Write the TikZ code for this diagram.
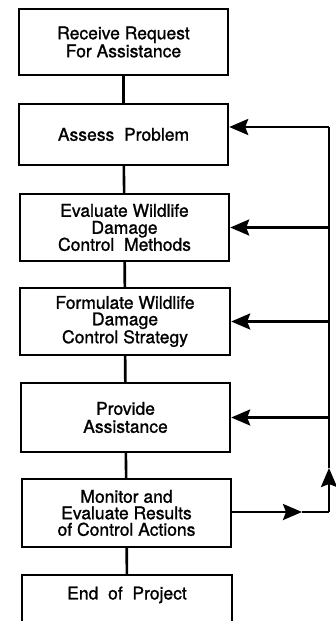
\documentclass[tikz,border=0pt]{standalone}
\usepackage{fontspec}
\setmainfont{TeX Gyre Heros}[FakeBold=1.2, AutoFakeBold=1.2]
\usetikzlibrary{arrows.meta}

\tikzset{
  stepbox/.style={draw, rectangle, line width=2.4pt, minimum width=209pt,
    align=center, inner sep=0pt, font=\fontsize{17.5}{18}\selectfont\bfseries},
  link/.style={line width=2.6pt},
  fbarrow/.style={line width=2.6pt, -{Stealth[length=19pt,width=16pt,inset=3pt]}}
}

\begin{document}
\begin{tikzpicture}[x=1pt, y=-1pt]
\useasboundingbox (0,0) rectangle (336,621);

% Process steps
\node[stepbox, minimum height=66pt] (receive) at (123.5,42) {Receive Request\\For Assistance};
\node[stepbox, minimum height=61pt] (assess) at (123.5,134.5) {Assess\ \ Problem};
\node[stepbox, minimum height=67pt, font=\fontsize{17.5}{17}\selectfont\bfseries] (evaluate) at (124.5,227.5) {Evaluate Wildlife\\Damage\\Control\ \ Methods};
\node[stepbox, minimum height=67pt, minimum width=210pt, font=\fontsize{17.5}{16.5}\selectfont\bfseries] (formulate) at (125,321.5) {Formulate Wildlife\\Damage\\Control Strategy};
\node[stepbox, minimum height=69pt] (provide) at (125.5,417.5) {Provide\\Assistance};
\node[stepbox, minimum height=68pt, font=\fontsize{17.5}{16.5}\selectfont\bfseries] (monitor) at (126.5,513) {Monitor and\\Evaluate Results\\of Control Actions};
\node[stepbox, minimum height=47pt, minimum width=210pt, text depth=11pt] (finish) at (127,598.5) {End\ \ of\ \ Project};

% Main sequence
\draw[link] (receive) -- (assess);
\draw[link] (assess) -- (evaluate);
\draw[link] (evaluate) -- (formulate);
\draw[link] (formulate) -- (provide);
\draw[link] (provide) -- (monitor);
\draw[link] (monitor) -- (finish);

% Feedback loop
\coordinate (fbtop) at (329,127);
\coordinate (fbbot) at (329,512);
\coordinate (outtip) at (302,512);
\coordinate (uptip) at (329,468);
\draw[fbarrow] (monitor.east |- fbbot) -- (outtip);
\draw[link] (outtip) -- (fbbot);
\draw[fbarrow] (fbbot) -- (uptip);
\draw[link] (uptip) -- (fbtop);
\draw[fbarrow] (fbtop) -- (assess.east |- fbtop);
\foreach \b in {evaluate, formulate, provide}
  \draw[fbarrow] (\b.east -| fbtop) -- (\b.east);
\end{tikzpicture}
\end{document}
